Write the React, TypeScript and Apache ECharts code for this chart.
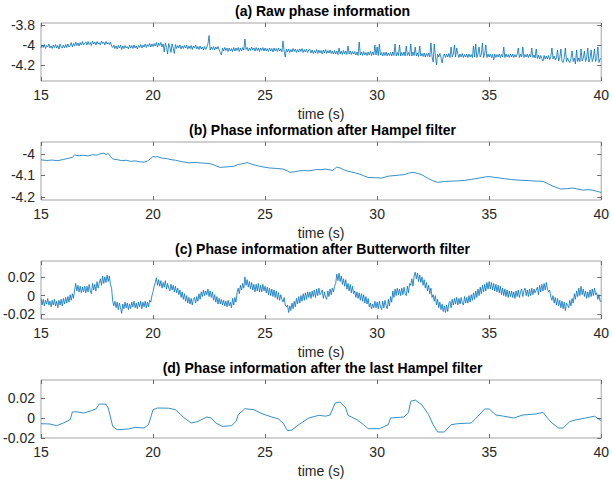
import { useEffect, useRef } from "react";
import * as echarts from "echarts";

// Panel titles, top to bottom
const TITLES = [
  "(a) Raw phase information",
  "(b) Phase information after Hampel filter",
  "(c) Phase information after Butterworth filter",
  "(d) Phase information after the last Hampel filter",
];

const X_NAME = "time (s)";
const X_MIN = 15;
const X_MAX = 40;
const X_INTERVAL = 5;

// Y limits and tick values per panel
const Y_LIMITS = [
  [-4.36, -3.78],
  [-4.215, -3.945],
  [-0.025, 0.037],
  [-0.02, 0.038],
];
const Y_TICKS = [
  [-4.2, -4, -3.8],
  [-4.2, -4.1, -4],
  [-0.02, 0, 0.02],
  [-0.02, 0, 0.02],
];

// Uniformly sampled series start at 15 s with a 0.05 s step
const SAMPLE_START = 15;
const SAMPLE_STEP = 0.05;

// (a) raw phase, 20 samples per second from 15.00 s to 40.00 s
const RAW_PHASE = [
  -4.03, -4.0, -4.025, -3.995, -4.035, -4.005, -4.02, -3.99, -4.03, -4.01, -4.035, -4.0, -4.025, -3.995, -4.03, -4.005, -4.04, -3.99, -4.02, -4.03,
  -4.0, -4.03, -3.995, -4.025, -3.99, -4.02, -4.005, -3.975, -4.02, -3.985, -4.01, -3.97, -4.005, -3.98, -4.01, -3.975, -4.0, -3.965, -4.0, -3.98,
  -3.97, -4.0, -3.965, -3.995, -3.975, -4.005, -3.96, -3.99, -3.97, -4.0, -3.965, -3.99, -3.975, -4.0, -3.96, -3.985, -3.97, -4.0, -3.965, -3.99,
  -3.975, -3.995, -3.97, -4.01, -4.025, -4.0, -4.035, -4.01, -4.04, -4.005, -4.03, -4.0, -4.045, -4.01, -4.035, -4.005, -4.03, -4.015, -4.04, -4.0,
  -4.03, -4.005, -4.035, -4.0, -4.03, -4.01, -4.04, -4.005, -4.025, -3.995, -4.03, -4.0, -4.02, -3.99, -4.025, -3.995, -4.015, -3.985, -4.02, -3.99,
  -4.015, -3.985, -4.01, -3.975, -4.02, -3.98, -4.005, -3.975, -4.02, -3.99, -4.07, -3.98, -4.025, -4.09, -3.985, -4.02, -4.075, -3.99, -4.03, -4.085,
  -3.995, -4.035, -4.005, -4.03, -4.0, -4.04, -4.01, -4.035, -4.005, -4.03, -4.0, -4.04, -4.01, -4.035, -4.005, -4.045, -4.01, -4.03, -4.0, -4.04,
  -4.015, -4.045, -4.01, -4.04, -4.02, -4.05, -4.015, -4.045, -4.02, -3.99, -3.905, -4.05, -4.02, -4.045, -4.015, -4.05, -4.02, -4.04, -4.015, -4.05,
  -4.075, -4.1, -4.03, -4.06, -4.025, -4.055, -4.03, -4.065, -4.03, -4.06, -4.035, -4.065, -4.025, -4.06, -4.03, -4.055, -4.025, -4.065, -4.03, -4.06,
  -4.025, -4.05, -3.94, -4.045, -4.025, -4.06, -4.03, -4.055, -4.02, -4.05, -4.03, -4.06, -4.025, -4.055, -4.03, -4.065, -4.03, -4.055, -4.025, -4.06,
  -4.03, -4.06, -4.035, -4.065, -4.03, -4.06, -4.035, -4.07, -4.03, -4.06, -4.035, -4.065, -4.03, -4.06, -4.04, -4.07, -3.96, -4.06, -4.12, -4.04,
  -4.07, -4.04, -4.075, -4.045, -4.07, -4.035, -4.065, -4.04, -4.075, -4.045, -4.07, -4.04, -4.065, -4.035, -4.075, -4.045, -4.07, -4.04, -4.075, -4.05,
  -4.045, -4.08, -4.05, -4.085, -4.055, -4.08, -4.045, -4.085, -4.05, -4.08, -4.055, -4.09, -4.05, -4.08, -4.045, -4.085, -4.055, -4.08, -4.05, -4.085,
  -4.06, -4.09, -4.055, -4.09, -4.06, -4.095, -4.03, -4.09, -4.06, -4.095, -4.055, -4.09, -4.06, -4.095, -4.01, -4.09, -4.06, -4.095, -4.065, -4.09,
  -4.065, -4.1, -4.07, -4.105, -3.97, -4.1, -4.07, -4.105, -4.065, -4.1, -4.075, -4.105, -4.07, -4.1, -4.065, -4.105, -4.07, -4.1, -4.0, -4.1,
  -4.02, -4.105, -3.99, -4.1, -4.075, -4.11, -4.075, -4.105, -4.07, -4.11, -4.08, -4.105, -4.075, -4.11, -4.07, -4.105, -3.99, -4.11, -4.075, -4.105,
  -4.0, -4.11, -4.075, -4.105, -4.07, -4.11, -4.01, -4.105, -4.075, -4.11, -3.99, -4.11, -4.07, -4.105, -4.02, -4.11, -4.08, -4.115, -4.01, -4.11,
  -4.085, -4.115, -4.08, -4.12, -4.085, -4.115, -4.08, -4.12, -3.98, -4.115, -4.17, -3.99, -4.11, -4.2, -4.09, -4.12, -4.085, -4.125, -4.18, -4.115,
  -4.09, -4.125, -4.09, -4.12, -4.085, -4.125, -4.02, -4.12, -4.09, -4.0, -4.12, -4.03, -4.09, -4.125, -4.09, -4.12, -4.085, -4.125, -4.095, -4.12,
  -4.09, -4.125, -4.09, -4.12, -4.095, -4.125, -4.01, -4.12, -3.99, -4.125, -4.09, -4.02, -4.12, -4.095, -3.98, -4.125, -4.09, -4.0, -4.125, -4.09,
  -4.12, -4.09, -4.125, -4.095, -4.15, -4.09, -4.125, -4.095, -4.12, -4.09, -4.125, -4.095, -4.12, -4.02, -4.125, -4.09, -4.12, -4.095, -4.125, -4.09,
  -4.12, -4.09, -4.125, -4.095, -4.12, -4.09, -4.03, -4.125, -4.09, -4.12, -4.02, -4.125, -4.095, -4.12, -4.09, -4.125, -4.095, -4.12, -4.03, -4.125,
  -4.1, -4.13, -4.04, -4.135, -4.1, -4.14, -4.105, -4.135, -4.16, -4.105, -4.14, -4.11, -4.14, -4.105, -4.145, -4.115, -4.03, -4.14, -4.11, -4.15,
  -4.13, -4.05, -4.16, -4.125, -4.04, -4.165, -4.175, -4.13, -4.03, -4.165, -4.13, -4.16, -4.175, -4.135, -4.06, -4.165, -4.13, -4.19, -4.05, -4.165,
  -4.13, -4.165, -4.04, -4.16, -4.13, -4.06, -4.165, -4.13, -4.03, -4.17, -4.135, -4.05, -4.165, -4.13, -4.04, -4.165, -4.135, -4.02, -4.175, -4.14,
  -4.13,
];

// (b) phase after the Hampel filter, [time, phase]
const HAMPEL_PHASE = [
  [15.0, -4.028], [15.25, -4.031], [15.5, -4.029], [15.75, -4.032], [16.0, -4.026],
  [16.2, -4.022], [16.4, -4.016], [16.5, -4.006], [16.7, -4.009], [16.9, -4.007],
  [17.1, -4.01], [17.3, -4.004], [17.5, -4.006], [17.6, -4.001], [17.8, -3.997],
  [17.9, -4.003], [18.0, -3.999], [18.1, -4.012], [18.2, -4.024], [18.4, -4.027],
  [18.6, -4.032], [18.8, -4.03], [19.0, -4.035], [19.2, -4.033], [19.4, -4.037],
  [19.6, -4.039], [19.75, -4.034], [19.9, -4.022], [20.0, -4.012], [20.1, -4.015],
  [20.2, -4.013], [20.4, -4.02], [20.6, -4.022], [20.8, -4.027], [21.0, -4.03],
  [21.3, -4.037], [21.6, -4.042], [21.9, -4.04], [22.2, -4.043], [22.5, -4.045],
  [22.7, -4.051], [22.9, -4.06], [23.0, -4.063], [23.3, -4.061], [23.6, -4.058],
  [23.8, -4.05], [24.0, -4.046], [24.2, -4.041], [24.4, -4.048], [24.6, -4.054],
  [24.9, -4.061], [25.2, -4.066], [25.5, -4.068], [25.8, -4.071], [26.0, -4.08],
  [26.1, -4.086], [26.3, -4.084], [26.5, -4.08], [26.7, -4.078], [27.0, -4.079],
  [27.3, -4.073], [27.5, -4.074], [27.7, -4.071], [28.0, -4.077], [28.1, -4.07],
  [28.2, -4.062], [28.35, -4.066], [28.5, -4.074], [28.7, -4.081], [29.0, -4.088],
  [29.2, -4.094], [29.4, -4.102], [29.6, -4.11], [29.9, -4.111], [30.2, -4.113],
  [30.5, -4.104], [30.8, -4.101], [31.0, -4.099], [31.2, -4.097], [31.4, -4.09],
  [31.6, -4.086], [31.8, -4.091], [32.0, -4.098], [32.3, -4.116], [32.5, -4.126],
  [32.7, -4.133], [33.0, -4.129], [33.3, -4.127], [33.6, -4.126], [33.9, -4.124],
  [34.2, -4.119], [34.5, -4.114], [34.8, -4.108], [35.0, -4.106], [35.2, -4.109],
  [35.4, -4.112], [35.7, -4.116], [36.0, -4.12], [36.4, -4.123], [36.8, -4.125],
  [37.1, -4.127], [37.4, -4.128], [37.6, -4.138], [37.8, -4.149], [38.0, -4.157],
  [38.2, -4.164], [38.5, -4.162], [38.7, -4.159], [38.9, -4.163], [39.2, -4.169],
  [39.4, -4.167], [39.6, -4.169], [39.8, -4.174], [40.0, -4.18],
];

// (c) phase after the Butterworth filter, 20 samples per second from 15.00 s to 40.00 s
const BUTTER_PHASE = [
  -0.003, -0.01, -0.004, -0.011, -0.005, -0.009, -0.003, -0.01, -0.006, -0.012, -0.005, -0.01, -0.004, -0.011, -0.006, -0.013, -0.005, -0.01, -0.004, -0.011,
  -0.003, -0.009, -0.002, -0.008, -0.001, -0.007, 0.001, -0.005, 0.002, -0.003, 0.006, 0.013, 0.005, 0.011, 0.004, 0.01, 0.003, 0.009, 0.004, 0.01,
  0.003, 0.01, 0.004, 0.012, 0.005, 0.002, 0.013, 0.006, 0.012, 0.005, 0.015, 0.008, 0.013, 0.018, 0.011, 0.021, 0.013, 0.02, 0.014, 0.022,
  0.015, 0.021, 0.012, 0.008, -0.006, -0.011, -0.006, -0.013, -0.007, -0.015, -0.008, -0.013, -0.019, -0.009, -0.014, -0.007, -0.013, -0.008, -0.015, -0.009,
  -0.014, -0.007, -0.012, -0.006, -0.013, -0.008, -0.014, -0.007, -0.012, -0.006, -0.014, -0.007, -0.012, -0.006, -0.013, -0.007, -0.012, -0.005, -0.007, 0.0,
  0.004, 0.01, 0.014, 0.019, 0.011, 0.017, 0.01, 0.016, 0.008, 0.014, 0.009, 0.016, 0.007, 0.013, 0.008, 0.005, 0.012, 0.006, 0.011, 0.004,
  0.01, 0.003, 0.008, 0.001, 0.006, -0.002, 0.004, -0.004, 0.002, -0.006, 0.0, -0.008, -0.002, -0.009, -0.003, -0.01, -0.004, -0.002, -0.008, -0.001,
  -0.006, 0.002, -0.004, 0.004, -0.001, 0.006, 0.0, 0.005, 0.001, 0.007, -0.001, 0.005, -0.002, 0.004, -0.005, 0.001, -0.007, -0.001, -0.009, -0.003,
  -0.009, -0.004, -0.01, -0.005, -0.011, -0.006, -0.012, -0.005, -0.011, -0.007, -0.013, -0.003, -0.01, -0.002, -0.007, 0.003, 0.008, 0.002, 0.011, 0.006,
  0.013, 0.008, 0.02, 0.011, 0.017, 0.009, 0.015, 0.007, 0.014, 0.006, 0.012, 0.004, 0.012, 0.005, 0.013, 0.004, 0.011, 0.004, 0.012, 0.005,
  0.01, 0.003, 0.009, 0.001, 0.008, 0.0, 0.007, -0.001, 0.006, -0.002, 0.005, -0.004, 0.003, -0.005, 0.001, -0.004, -0.007, -0.002, -0.01, -0.012,
  -0.01, -0.018, -0.011, -0.016, -0.008, -0.014, -0.006, -0.012, -0.003, -0.009, -0.001, -0.008, 0.0, -0.006, 0.002, -0.005, 0.003, -0.004, 0.004, -0.002,
  0.004, -0.003, 0.005, -0.001, 0.006, -0.002, 0.007, 0.0, 0.008, 0.001, 0.003, 0.006, -0.003, 0.004, -0.002, -0.004, 0.005, -0.001, 0.007, 0.001,
  0.008, 0.004, 0.01, 0.013, 0.023, 0.016, 0.024, 0.015, 0.021, 0.012, 0.018, 0.01, 0.017, 0.007, 0.013, 0.005, 0.012, 0.003, 0.01, 0.002,
  0.005, -0.002, 0.004, -0.003, 0.003, -0.005, 0.002, -0.006, 0.001, -0.008, -0.001, -0.009, -0.003, -0.012, -0.008, -0.014, -0.009, -0.013, -0.006, -0.013,
  -0.007, -0.014, -0.006, -0.012, -0.015, -0.006, -0.013, -0.005, -0.011, -0.014, -0.004, -0.011, -0.001, -0.007, 0.005, -0.002, 0.007, 0.0, 0.008, 0.001,
  0.007, 0.0, 0.008, 0.001, 0.009, 0.002, 0.0, 0.01, 0.003, 0.013, 0.011, 0.018, 0.01, 0.021, 0.025, 0.018, 0.024, 0.015, 0.022, 0.014,
  0.02, 0.011, 0.017, 0.008, 0.014, 0.005, 0.011, 0.002, 0.008, -0.002, 0.001, -0.006, 0.0, -0.01, -0.004, -0.013, -0.007, -0.015, -0.009, -0.017,
  -0.011, -0.018, -0.01, -0.017, -0.008, -0.006, -0.013, -0.004, -0.01, -0.003, -0.009, -0.002, -0.01, -0.003, -0.009, -0.002, -0.008, -0.01, -0.001, -0.008,
  -0.002, -0.008, 0.0, -0.007, 0.001, -0.005, 0.003, -0.004, 0.005, -0.002, 0.007, 0.0, 0.009, 0.002, 0.011, 0.004, 0.012, 0.005, 0.014, 0.007,
  0.015, 0.007, 0.014, 0.006, 0.013, 0.005, 0.012, 0.004, 0.011, 0.003, 0.01, 0.001, 0.008, 0.0, 0.007, -0.001, 0.006, -0.002, 0.005, -0.001,
  0.005, -0.002, 0.004, -0.003, 0.005, -0.001, 0.006, -0.002, 0.004, 0.007, -0.001, 0.005, 0.008, 0.0, 0.006, -0.001, 0.007, 0.0, 0.008, 0.001,
  0.007, 0.003, 0.006, 0.009, 0.001, 0.011, 0.004, 0.012, 0.005, 0.013, 0.006, 0.014, 0.007, 0.004, 0.006, -0.001, -0.005, 0.0, -0.008, -0.002,
  -0.01, -0.003, -0.011, -0.005, -0.013, -0.006, -0.014, -0.007, -0.016, -0.008, -0.01, -0.013, -0.005, -0.011, -0.003, -0.008, 0.002, -0.004, 0.005, -0.001,
  0.008, 0.0, 0.01, 0.001, 0.007, -0.001, 0.005, -0.003, 0.004, -0.002, 0.006, -0.001, 0.007, 0.0, 0.008, 0.001, 0.003, -0.004, 0.001, -0.006,
  -0.006,
];

// (d) phase after the last Hampel filter, [time, phase]
const FINAL_PHASE = [
  [15.0, -0.0057], [15.4, -0.006], [15.7, -0.0077], [16.0, -0.005], [16.3, -0.0017],
  [16.4, 0.006], [16.6, 0.0062], [16.9, 0.005], [17.25, 0.0073], [17.45, 0.009],
  [17.6, 0.014], [17.9, 0.0138], [18.0, 0.01], [18.2, -0.0084], [18.4, -0.0117],
  [18.9, -0.011], [19.2, -0.0094], [19.6, -0.01], [19.8, -0.0067], [20.0, 0.0083],
  [20.2, 0.01], [20.7, 0.0098], [21.0, 0.0083], [21.4, 0.0], [21.7, -0.005],
  [22.0, -0.0035], [22.4, 0.001], [22.6, 0.0], [22.8, -0.005], [23.1, -0.0084],
  [23.5, -0.0077], [23.7, -0.0035], [23.8, 0.0033], [24.1, 0.0093], [24.5, 0.0083],
  [24.9, 0.004], [25.3, 0.001], [25.6, -0.001], [25.8, -0.005], [26.0, -0.0127],
  [26.2, -0.012], [26.5, -0.0067], [26.95, 0.0], [27.4, 0.0027], [27.7, 0.0018],
  [27.9, 0.003], [28.13, 0.015], [28.35, 0.016], [28.6, 0.01], [28.7, 0.0027],
  [29.1, -0.0017], [29.4, -0.0067], [29.6, -0.0107], [30.1, -0.0107], [30.5, -0.0067],
  [30.6, 0.0], [31.2, 0.001], [31.4, 0.0057], [31.5, 0.0167], [31.7, 0.018],
  [32.0, 0.013], [32.3, 0.0033], [32.5, -0.0067], [32.7, -0.014], [33.0, -0.014],
  [33.3, -0.0067], [33.6, -0.0057], [34.2, -0.005], [34.5, 0.0018], [34.8, 0.009],
  [35.0, 0.009], [35.3, 0.003], [35.6, 0.002], [36.1, 0.0], [36.5, 0.003],
  [37.1, 0.004], [37.4, 0.0057], [37.6, 0.0], [37.8, -0.005], [38.1, -0.01],
  [38.3, -0.01], [38.6, -0.0035], [38.9, -0.0017], [39.3, 0.0], [39.7, 0.0018],
  [40.0, -0.0027],
];

const GRID_TOPS = [23, 142, 261, 380];
const GRID_HEIGHT = 58;
const GRID_LEFT = 41;
const GRID_RIGHT = 8;

const FONT = "'Liberation Sans', Arial, Helvetica, sans-serif";
const LINE_COLOR = "#0072BD";
const BOX_COLOR = "#a3a3a3";
const TICK_COLOR = "#6b6b6b";
const TEXT_COLOR = "#262626";

const uniformSeries = (values: number[]) =>
  values.map((v, i) => [Math.round((SAMPLE_START + i * SAMPLE_STEP) * 100) / 100, v]);

export default function App() {
  const ref = useRef<HTMLDivElement>(null);

  useEffect(() => {
    if (!ref.current) return;
    const chart = echarts.init(ref.current, null, { renderer: "svg" });

    const seriesData = [
      uniformSeries(RAW_PHASE),
      HAMPEL_PHASE,
      uniformSeries(BUTTER_PHASE),
      FINAL_PHASE,
    ];

    const grids = GRID_TOPS.map((top) => ({
      left: GRID_LEFT,
      right: GRID_RIGHT,
      top,
      height: GRID_HEIGHT,
      show: true,
      borderColor: BOX_COLOR,
      borderWidth: 1,
      backgroundColor: "transparent",
    }));

    const tickStyle = { show: true, inside: true, length: 4, lineStyle: { color: TICK_COLOR, width: 1 } };
    const hiddenLine = { show: false, onZero: false };

    const xBottom = GRID_TOPS.map((_, i) => ({
      type: "value",
      gridIndex: i,
      position: "bottom",
      min: X_MIN,
      max: X_MAX,
      interval: X_INTERVAL,
      name: X_NAME,
      nameLocation: "middle",
      nameGap: 26,
      nameTextStyle: { fontFamily: FONT, fontSize: 14, color: TEXT_COLOR },
      axisLine: hiddenLine,
      axisTick: tickStyle,
      axisLabel: { fontFamily: FONT, fontSize: 14, color: TEXT_COLOR, margin: 7 },
      splitLine: { show: false },
    }));

    const xTop = GRID_TOPS.map((_, i) => ({
      type: "value",
      gridIndex: i,
      position: "top",
      min: X_MIN,
      max: X_MAX,
      interval: X_INTERVAL,
      axisLine: hiddenLine,
      axisTick: tickStyle,
      axisLabel: { show: false },
      splitLine: { show: false },
    }));

    const yLeft = GRID_TOPS.map((_, i) => ({
      type: "value",
      gridIndex: i,
      position: "left",
      min: Y_LIMITS[i][0],
      max: Y_LIMITS[i][1],
      axisLine: hiddenLine,
      axisTick: { ...tickStyle, customValues: Y_TICKS[i] },
      axisLabel: {
        fontFamily: FONT,
        fontSize: 14,
        color: TEXT_COLOR,
        margin: 6,
        customValues: Y_TICKS[i],
        formatter: (v: number) => String(Math.round(v * 1000) / 1000),
      },
      splitLine: { show: false },
    }));

    const yRight = GRID_TOPS.map((_, i) => ({
      type: "value",
      gridIndex: i,
      position: "right",
      min: Y_LIMITS[i][0],
      max: Y_LIMITS[i][1],
      axisLine: hiddenLine,
      axisTick: { ...tickStyle, customValues: Y_TICKS[i] },
      axisLabel: { show: false, customValues: Y_TICKS[i] },
      splitLine: { show: false },
    }));

    const titleCenter = GRID_LEFT + (612 - GRID_LEFT - GRID_RIGHT) / 2;
    const titles = TITLES.map((text, i) => ({
      text,
      left: titleCenter,
      textAlign: "center",
      top: GRID_TOPS[i] - 19,
      padding: 0,
      textStyle: { fontFamily: FONT, fontSize: 14, fontWeight: "bold", color: "#000" },
    }));

    chart.setOption({
      animation: false,
      backgroundColor: "#fff",
      title: titles,
      grid: grids,
      xAxis: [...xBottom, ...xTop],
      yAxis: [...yLeft, ...yRight],
      series: seriesData.map((data, i) => ({
        type: "line",
        xAxisIndex: i,
        yAxisIndex: i,
        data,
        showSymbol: false,
        symbol: "none",
        lineStyle: { color: LINE_COLOR, width: 0.8 },
        emphasis: { disabled: true },
      })),
    });

    return () => chart.dispose();
  }, []);

  return (
    <div
      ref={ref}
      style={{ position: "fixed", left: 0, top: 0, width: 612, height: 483 }}
    />
  );
}
